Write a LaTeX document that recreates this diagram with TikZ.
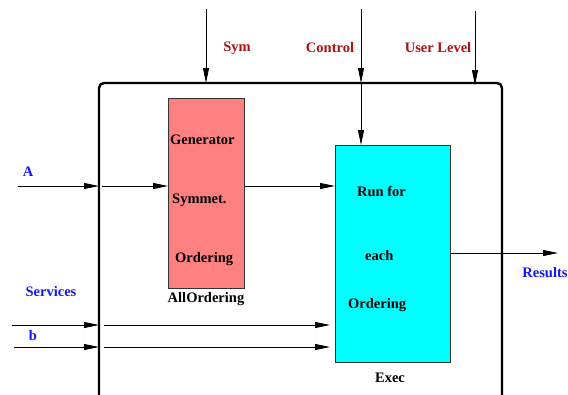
\documentclass[tikz,border=0pt]{standalone}
\usepackage{fontspec}
\setmainfont{Liberation Serif}
\usetikzlibrary{arrows.meta}
\definecolor{lblred}{RGB}{176,16,16}
\definecolor{lblblue}{RGB}{20,20,255}
\definecolor{pinkfill}{RGB}{255,128,128}
\definecolor{cyanfill}{RGB}{0,255,255}
\begin{document}
\begin{tikzpicture}[x=1pt,y=-1pt,
  conn/.style={draw=black,line width=0.9pt,-{Triangle[length=15pt,width=6pt]}},
  redlbl/.style={text=lblred,font=\fontsize{14.5}{17}\selectfont\bfseries,inner sep=0pt},
  bluelbl/.style={text=lblblue,font=\fontsize{14.5}{17}\selectfont\bfseries,inner sep=0pt},
  blklbl/.style={text=black,font=\fontsize{14.5}{17}\selectfont\bfseries,inner sep=0pt},
  blockbox/.style={draw=black!80,line width=1pt,inner sep=0pt,anchor=north west}]
\useasboundingbox (0,0) rectangle (568,394);
% outer frame (open at bottom)
\draw[line width=2.4pt,rounded corners=5pt] (99,400) -- (99,83) -- (502,83) -- (502,400);
% blocks
\node[blockbox,fill=pinkfill,minimum width=76pt,minimum height=190pt] (gen) at (168,98) {};
\node[blockbox,fill=cyanfill,minimum width=115pt,minimum height=217pt] (exec) at (335,145) {};
% texts in blocks
\node[blklbl,anchor=west] (t1) at (170,140) {Generator};
\node[blklbl,anchor=west] (t2) at (172,200) {Symmet.};
\node[blklbl,anchor=west] (t3) at (175,259) {Ordering};
\node[blklbl] (t4) at (206,299) {AllOrdering};
\node[blklbl,anchor=west] (t5) at (357,191) {Run for};
\node[blklbl,anchor=west] (t6) at (365,256) {each};
\node[blklbl,anchor=west] (t7) at (348,305) {Ordering};
\node[blklbl] (t8) at (390,378) {Exec};
% labels
\node[redlbl] (lsym) at (237,48) {Sym};
\node[redlbl] (lctl) at (330,48) {Control};
\node[redlbl] (lusr) at (438,48) {User Level};
\node[bluelbl] (lA) at (28,172) {A};
\node[bluelbl] (lsrv) at (51,292) {Services};
\node[bluelbl] (lb) at (33,336) {b};
\node[bluelbl] (lres) at (545,273) {Results};
% coordinates
\coordinate (symtop) at (206,9);
\coordinate (symbot) at (206,83);
\coordinate (ctltop) at (361,9);
\coordinate (ctlmid) at (361,83);
\coordinate (usrtop) at (475,11);
\coordinate (usrbot) at (475,85);
\coordinate (ain) at (18,186);
\coordinate (aedge) at (99,186);
\coordinate (aedge2) at (102,186);
\coordinate (resend) at (558,253);
\coordinate (s1in) at (12,325);
\coordinate (s1edge) at (99,325);
\coordinate (s1edge2) at (104,325);
\coordinate (s2in) at (14,347);
\coordinate (s2edge) at (99,347);
\coordinate (s2edge2) at (104,347);
% connectors
\draw[conn] (symtop) -- (symbot);
\draw[conn] (ctltop) -- (ctlmid);
\draw[conn] (ctlmid) -- (ctlmid |- exec.north);
\draw[conn] (usrtop) -- (usrbot);
\draw[conn] (ain) -- (aedge);
\draw[conn] (aedge2) -- (aedge2 -| gen.west);
\draw[conn] (aedge -| gen.east) -- (aedge -| exec.west);
\draw[conn] (resend -| exec.east) -- (resend);
\draw[conn] (s1in) -- (s1edge);
\draw[conn] (s1edge2) -- ([xshift=-5pt]s1edge2 -| exec.west);
\draw[conn] (s2in) -- (s2edge);
\draw[conn] (s2edge2) -- ([xshift=-5pt]s2edge2 -| exec.west);
\end{tikzpicture}
\end{document}
